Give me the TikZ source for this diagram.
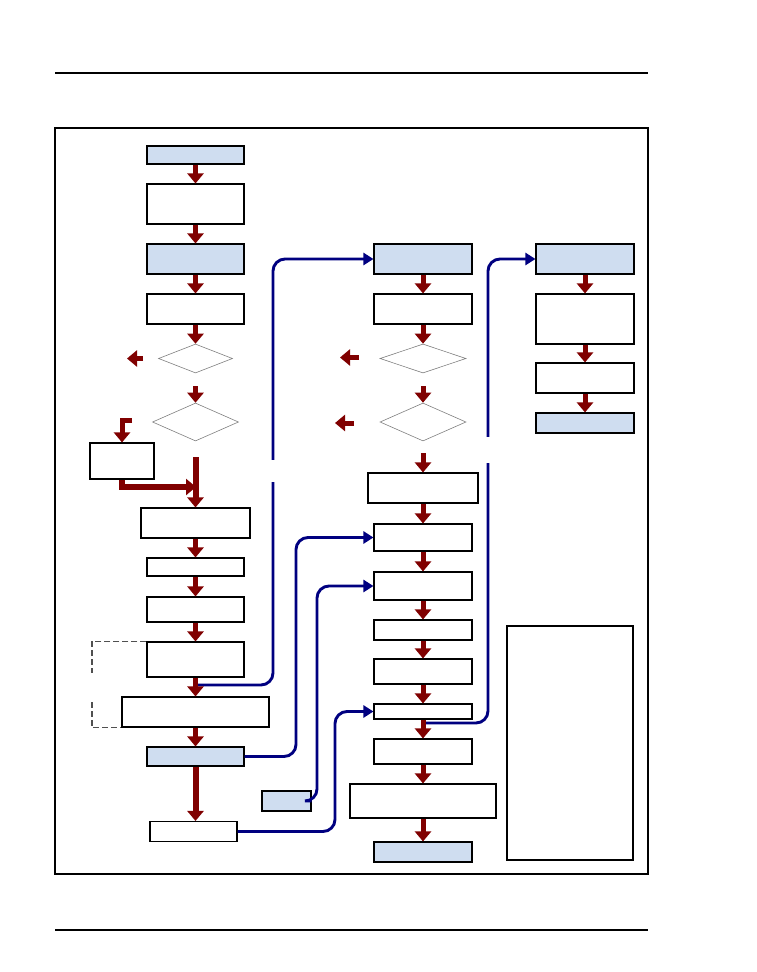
\documentclass[tikz,border=0pt]{standalone}
\usepackage{tikz}
\usepackage{xcolor}
\usetikzlibrary{arrows.meta,shapes.geometric}
\definecolor{flowred}{RGB}{128,0,0}
\definecolor{linkblue}{RGB}{0,0,128}
\definecolor{keyfill}{RGB}{207,221,240}
\definecolor{dashgray}{RGB}{80,80,80}

\begin{document}
\begin{tikzpicture}[x=1pt,y=-1pt,
  plainbox/.style={draw=black, line width=1.1pt, fill=white, inner sep=0pt},
  keybox/.style={plainbox, fill=keyfill},
  decision/.style={diamond, draw=gray, line width=0.6pt, inner sep=0pt},
  flow/.style={draw=flowred, line width=5pt, -{Triangle[width=16pt,length=10pt]}},
  bigflow/.style={flow, line width=6pt},
  link/.style={draw=linkblue, line width=2.9pt, rounded corners=12pt, -{Triangle[width=12pt,length=10pt]}},
  bracket/.style={draw=dashgray, line width=1.2pt, dash pattern=on 6pt off 3pt}]
\useasboundingbox[fill=white] (0,0) rectangle (756,972);
\draw[line width=1.5pt] (55,73) -- (648,73);
\draw[line width=1.5pt] (55,930) -- (648,930);
\draw[line width=1.1pt] (55,128) rectangle (648,874);

\node[keybox, minimum width=97pt, minimum height=18pt] (l1) at (195.5,155) {};
\node[plainbox, minimum width=97pt, minimum height=40pt] (l2) at (195.5,204) {};
\node[keybox, minimum width=97pt, minimum height=30pt] (l3) at (195.5,259) {};
\node[plainbox, minimum width=97pt, minimum height=30pt] (l4) at (195.5,309) {};
\node[decision, minimum width=74pt, minimum height=29pt] (ld1) at (195.5,358.5) {};
\node[decision, minimum width=86pt, minimum height=38pt] (ld2) at (195.5,422) {};
\node[plainbox, minimum width=64pt, minimum height=36pt] (l5) at (122,461) {};
\node[plainbox, minimum width=109pt, minimum height=30pt] (l6) at (195.5,523) {};
\node[plainbox, minimum width=97pt, minimum height=18pt] (l7) at (195.5,567) {};
\node[plainbox, minimum width=97pt, minimum height=25pt] (l8) at (195.5,609.5) {};
\node[plainbox, minimum width=97pt, minimum height=35pt] (l9) at (195.5,659.5) {};
\node[plainbox, minimum width=147pt, minimum height=30pt] (l10) at (195.5,712) {};
\node[keybox, minimum width=97pt, minimum height=19pt] (l11) at (195.5,756.5) {};
\node[plainbox, minimum width=87pt, minimum height=20pt] (l12) at (193.5,831.5) {};
\node[keybox, minimum width=49pt, minimum height=20pt] (l13) at (286.5,801) {};

\node[keybox, minimum width=98pt, minimum height=30pt] (m1) at (423,259) {};
\node[plainbox, minimum width=98pt, minimum height=30pt] (m2) at (423,309) {};
\node[decision, minimum width=86pt, minimum height=29pt] (md1) at (423,358.5) {};
\node[decision, minimum width=86pt, minimum height=38pt] (md2) at (423,422) {};
\node[plainbox, minimum width=110pt, minimum height=30pt] (m3) at (423,488) {};
\node[plainbox, minimum width=98pt, minimum height=27pt] (m4) at (423,537.5) {};
\node[plainbox, minimum width=98pt, minimum height=28pt] (m5) at (423,586) {};
\node[plainbox, minimum width=98pt, minimum height=20pt] (m6) at (423,630) {};
\node[plainbox, minimum width=98pt, minimum height=25pt] (m7) at (423,671.5) {};
\node[plainbox, minimum width=98pt, minimum height=15pt] (m8) at (423,711.5) {};
\node[plainbox, minimum width=98pt, minimum height=25pt] (m9) at (423,751.5) {};
\node[plainbox, minimum width=146pt, minimum height=34pt] (m10) at (423,801) {};
\node[keybox, minimum width=98pt, minimum height=20pt] (m11) at (423,852) {};

\node[keybox, minimum width=98pt, minimum height=30pt] (r1) at (585,259) {};
\node[plainbox, minimum width=98pt, minimum height=50pt] (r2) at (585,319) {};
\node[plainbox, minimum width=98pt, minimum height=30pt] (r3) at (585,378) {};
\node[keybox, minimum width=98pt, minimum height=20pt] (r4) at (585,423) {};

\node[plainbox, minimum width=126pt, minimum height=234pt] (key) at (570,743) {};

\coordinate (s1) at (195.5,685);
\coordinate (k1) at (273,470);
\coordinate (k2) at (296,650);
\coordinate (k3) at (317,700);
\coordinate (k4) at (335,770);
\coordinate (s5) at (423,723);
\coordinate (k5) at (488,500);
\draw[link] (s1) -| (k1) |- (m1.west);
\draw[link] (l11.east) -| (k2) |- (m4.west);
\draw[link] (l13.east) -| (k3) |- (m5.west);
\draw[link] (l12.east) -| (k4) |- (m8.west);
\draw[link] (s5) -| (k5) |- (r1.west);
\fill[white] (267,460) rectangle (279,482);
\fill[white] (482,437) rectangle (494,463);

\coordinate (b1) at (92,673);
\coordinate (b2) at (92,702);
\draw[bracket] (l9.north west) -| (b1);
\draw[bracket] (b2) |- (l10.south west);

\draw[flow] (l1.south) -- (l2.north);
\draw[flow] (l2.south) -- (l3.north);
\draw[flow] (l3.south) -- (l4.north);
\draw[flow] (l4.south) -- (ld1.north);
\coordinate (ld1b) at (195.5,386);
\draw[flow] (ld1b) -- (ld2.north);
\coordinate (ld1out) at (143,358.5);
\coordinate (ld1tip) at (127,358.5);
\draw[flow] (ld1out) -- (ld1tip);
\coordinate (ld2out) at (132,420);
\draw[flow] (ld2out) -| (l5.north);
\coordinate (lmerge) at (195.5,457);
\draw[bigflow] (lmerge) -- (l6.north);
\coordinate (ljoin) at (196,487);
\draw[bigflow] (l5.south) |- (ljoin);
\draw[flow] (l6.south) -- (l7.north);
\draw[flow] (l7.south) -- (l8.north);
\draw[flow] (l8.south) -- (l9.north);
\draw[flow] (l9.south) -- (l10.north);
\draw[flow] (l10.south) -- (l11.north);
\draw[bigflow] (l11.south) -- (l11.south |- l12.north);

\draw[flow] (m1.south) -- (m2.north);
\draw[flow] (m2.south) -- (md1.north);
\coordinate (md1b) at (423,386);
\draw[flow] (md1b) -- (md2.north);
\coordinate (md1out) at (359,357.5);
\coordinate (md1tip) at (340,357.5);
\draw[flow] (md1out) -- (md1tip);
\coordinate (md2out) at (354,423);
\coordinate (md2tip) at (335,423);
\draw[flow] (md2out) -- (md2tip);
\coordinate (md2b) at (423,453);
\draw[flow] (md2b) -- (m3.north);
\draw[flow] (m3.south) -- (m4.north);
\draw[flow] (m4.south) -- (m5.north);
\draw[flow] (m5.south) -- (m6.north);
\draw[flow] (m6.south) -- (m7.north);
\draw[flow] (m7.south) -- (m8.north);
\draw[flow] (m8.south) -- (m9.north);
\draw[flow] (m9.south) -- (m10.north);
\draw[flow] (m10.south) -- (m11.north);

\draw[flow] (r1.south) -- (r2.north);
\draw[flow] (r2.south) -- (r3.north);
\draw[flow] (r3.south) -- (r4.north);
\end{tikzpicture}
\end{document}
